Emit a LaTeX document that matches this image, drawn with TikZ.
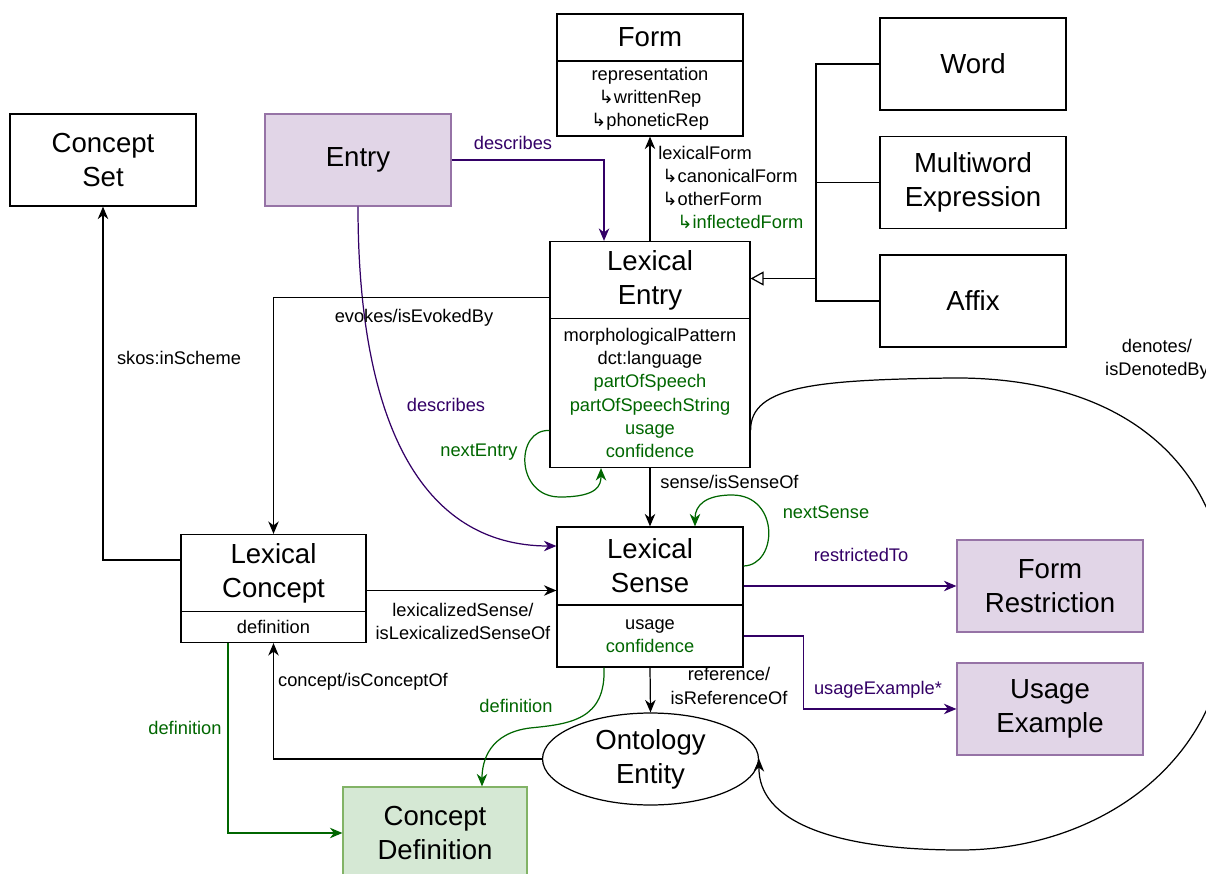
\documentclass[tikz,border=0pt]{standalone}
\usepackage{fontspec}
\setmainfont{Liberation Sans}
\newfontfamily\arrowfont{DejaVu Sans}
\usepackage{xcolor}
\usetikzlibrary{shapes.geometric, arrows.meta, positioning}
\definecolor{purpline}{HTML}{330066}
\definecolor{purpfill}{HTML}{E1D5E7}
\definecolor{purpdraw}{HTML}{9673A6}
\definecolor{greenline}{HTML}{006600}
\definecolor{greenfill}{HTML}{D5E8D4}
\definecolor{greendraw}{HTML}{82B366}
\newcommand{\titlefont}{\fontsize{15.7}{19.3}\selectfont}
\newcommand{\attrfont}{\fontsize{10.4}{13.2}\selectfont}
\newcommand{\subarr}{{\arrowfont ↳}}
\tikzstyle{classbox} = [rectangle, minimum width=3.72cm, minimum height=1.84cm, inner sep=0pt, align=center, draw=black, font=\titlefont]
\tikzstyle{titlepart} = [rectangle, inner sep=0pt, align=center, draw=black, font=\titlefont]
\tikzstyle{attrpart} = [rectangle, inner sep=0pt, align=center, draw=black, font=\attrfont]
\tikzstyle{extbox} = [classbox, draw=purpdraw, fill=purpfill]
\tikzstyle{defbox} = [classbox, draw=greendraw, fill=greenfill]
\tikzstyle{arrow} = [-{Stealth[length=2.5mm, width=2.1mm, inset=0.8mm]}]
\tikzstyle{purplearrow} = [arrow, purpline]
\tikzstyle{greenarrow} = [arrow, greenline]
\tikzstyle{genarrow} = [-{Triangle[open, length=2.6mm, width=2.8mm]}]
\tikzstyle{lbl} = [font=\attrfont, align=center, inner sep=1pt]

\begin{document}
\begin{tikzpicture}[x=0.02cm, y=-0.02cm, line width=0.7pt, node distance=2.37cm]
\useasboundingbox (0,0) rectangle (1206,874);

% classes with attributes
\node (form) [titlepart, minimum width=3.72cm, minimum height=0.94cm] at (650,37.5) {Form};
\node (form_attr) [attrpart, minimum width=3.72cm, minimum height=1.5cm, below=-0.7pt of form] {representation\\\subarr writtenRep\\\subarr phoneticRep};
\node (le) [titlepart, minimum width=4cm, minimum height=1.54cm] at (650,280) {Lexical\\Entry};
\node (le_attr) [attrpart, minimum width=4cm, minimum height=2.98cm, below=-0.7pt of le] {morphologicalPattern\\dct:language\\\textcolor{greenline}{partOfSpeech}\\\textcolor{greenline}{partOfSpeechString}\\\textcolor{greenline}{usage}\\\textcolor{greenline}{confidence}};
\node (ls) [titlepart, minimum width=3.72cm, minimum height=1.56cm] at (650,566) {Lexical\\Sense};
\node (ls_attr) [attrpart, minimum width=3.72cm, minimum height=1.24cm, below=-0.7pt of ls] {usage\\\textcolor{greenline}{confidence}};
\node (lc) [titlepart, minimum width=3.7cm, minimum height=1.54cm] at (273.5,573) {Lexical\\Concept};
\node (lc_attr) [attrpart, minimum width=3.7cm, minimum height=0.62cm, below=-0.7pt of lc] {definition};

% plain classes
\node (entry) [extbox] at (358,160) {Entry};
\node (cs) [classbox] at (103,160) {Concept\\Set};
\node (word) [classbox] at (973,64) {Word};
\node (mwe) [classbox, below of=word] {Multiword\\Expression};
\node (affix) [classbox, below of=mwe] {Affix};
\node (fr) [extbox] at (1050,586) {Form\\Restriction};
\node (ue) [extbox, below of=fr, node distance=2.46cm] {Usage\\Example};
\node (onto) [ellipse, draw=black, minimum width=4.32cm, minimum height=1.84cm, inner sep=0pt, align=center, font=\titlefont] at (650.5,759) {Ontology\\Entity};
\node (cd) [defbox, minimum width=3.68cm] at (435,833) {Concept\\Definition};
\coordinate (gen) at (816,278.5);

% connectors
\draw[purplearrow] (entry.east) -| ([xshift=-0.92cm]le.north);
\draw[purplearrow] (entry.south) .. controls (358,420) and (420,546) .. ([yshift=0.4cm]ls.west);
\draw[arrow] (le.north) -- (form_attr.south);
\draw (word.west) -| (gen);
\draw (mwe.west) -| (gen);
\draw (affix.west) -| (gen);
\draw[genarrow] (gen) -- (gen -| le.east);
\draw[arrow] ([yshift=-0.35cm]le.west) -| (lc.north);
\draw[arrow] ([yshift=0.26cm]lc.west) -| (cs.south);
\draw[arrow] (le_attr.south) -- (ls.north);
\draw[greenarrow] ([yshift=-0.75cm]le_attr.west) .. controls (515,429) and (515,497) .. (560,497) .. controls (598,497) and (601,485) .. ([xshift=-0.98cm]le_attr.south);
\draw[greenarrow] (ls.east) .. controls (778,565) and (780,495) .. (732,495) .. controls (706,495) and (695,505) .. ([xshift=0.9cm]ls.north);
\draw[arrow] ([yshift=-0.35cm]lc.east) -- ([yshift=-0.35cm]lc.east -| ls.west);
\draw[purplearrow] (ls.east |- fr.west) -- (fr.west);
\draw[purplearrow] (ls_attr.east) -- ++(1.2cm,0) |- (ue.west);
\draw[arrow] (ls_attr.south) -- (onto.north);
\draw[arrow] (onto.west) -| (lc_attr.south);
\draw[greenarrow] ([xshift=-0.91cm]lc_attr.south) |- (cd.west);
\draw[greenarrow] ([xshift=-0.92cm]ls_attr.south) .. controls (606,720) and (570,724) .. (530,728) .. controls (490,733) and (482,760) .. ([xshift=0.94cm]cd.north);
\draw[arrow] ([yshift=-0.75cm]le_attr.east) .. controls (750,385) and (820,380) .. (950,378) .. controls (1130,376) and (1228,470) .. (1228,612) .. controls (1228,760) and (1100,850) .. (960,850) .. controls (830,850) and (758,820) .. (onto.east);

% labels
\node (lbl_describes1) [lbl, text=purpline] at (513,143) {describes};
\node (lbl_describes2) [lbl, text=purpline] at (446,405) {describes};
\node (lbl_form) [lbl, align=left, anchor=west] at (656,187.5) {lexicalForm\\\hspace*{2.3pt}\subarr canonicalForm\\\hspace*{2.3pt}\subarr otherForm\\\hspace*{10.8pt}\textcolor{greenline}{\subarr inflectedForm}};
\node (lbl_evokes) [lbl] at (414,318) {evokes/isEvokedBy};
\node (lbl_scheme) [lbl] at (179,358) {skos:inScheme};
\node (lbl_sense) [lbl] at (729.5,482) {sense/isSenseOf};
\node (lbl_nextentry) [lbl, text=greenline] at (479,452) {nextEntry};
\node (lbl_nextsense) [lbl, text=greenline] at (826,512) {nextSense};
\node (lbl_lexsense) [lbl] at (463,621.5) {lexicalizedSense/\\isLexicalizedSenseOf};
\node (lbl_restricted) [lbl, text=purpline] at (861,555) {restrictedTo};
\node (lbl_usage) [lbl, text=purpline] at (878,690) {usageExample*};
\node (lbl_reference) [lbl] at (729,686) {reference/\\isReferenceOf};
\node (lbl_concept) [lbl] at (363,682) {concept/isConceptOf};
\node (lbl_def1) [lbl, text=greenline] at (516,706) {definition};
\node (lbl_def2) [lbl, text=greenline] at (185,728) {definition};
\node (lbl_denotes) [lbl] at (1157,359) {denotes/\\isDenotedBy};
\end{tikzpicture}
\end{document}
